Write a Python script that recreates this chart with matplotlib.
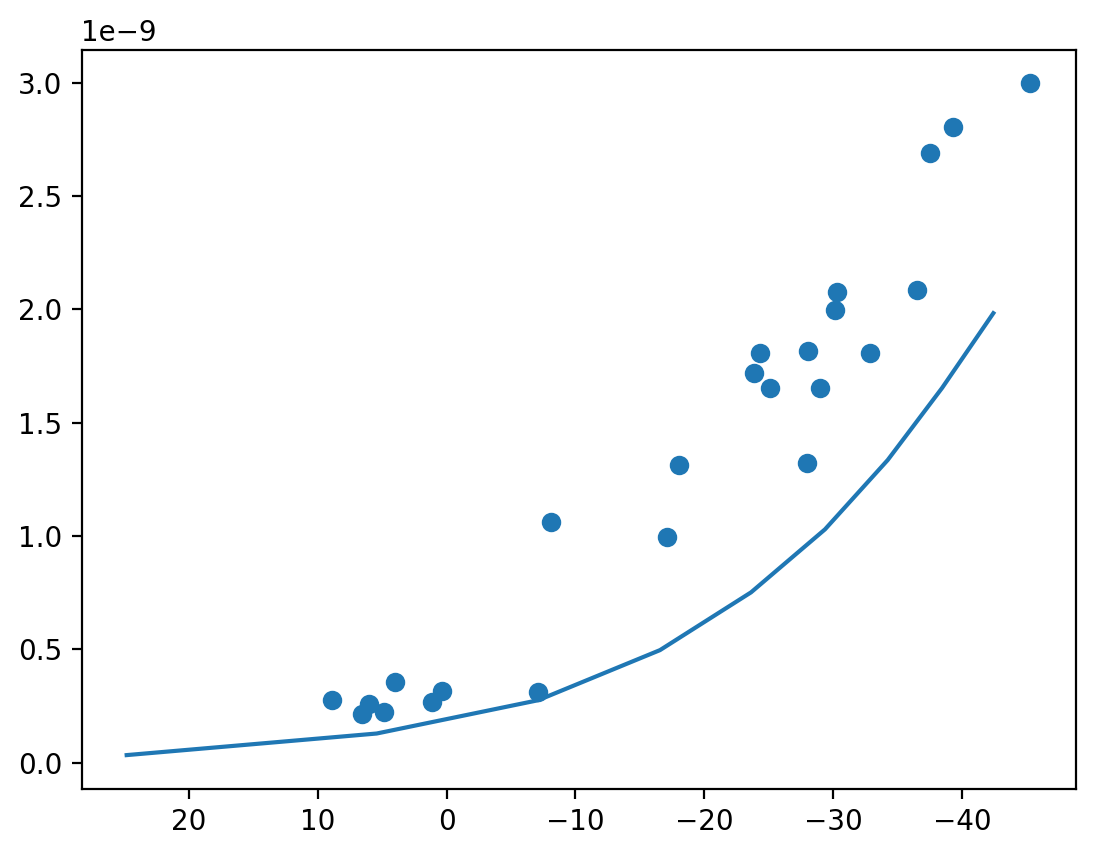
import matplotlib
matplotlib.use("Agg")
import matplotlib.pyplot as plt

# Scatter data (x, y in units of 1e-9)
scatter_x = [8.88, 6.55, 6.01, 4.87, 3.99, 1.12, 0.34, -7.11, -8.12, -17.13,
             -18.06, -23.88, -24.32, -25.12, -28.07, -28.0, -29.01, -30.16,
             -30.33, -32.88, -36.51, -37.55, -39.33, -45.31]
scatter_y = [0.275, 0.212, 0.258, 0.221, 0.354, 0.265, 0.314, 0.312, 1.060, 0.994,
             1.312, 1.718, 1.806, 1.652, 1.815, 1.321, 1.652, 1.995,
             2.076, 1.806, 2.086, 2.689, 2.804, 2.998]

# Line data
line_x = [24.84, 5.43, -7.11, -16.56, -23.63, -29.37, -34.24, -38.46, -42.44]
line_y = [0.0327, 0.128, 0.275, 0.496, 0.751, 1.029, 1.335, 1.653, 1.983]

scale = 1e-9

fig = plt.figure(figsize=(1095 / 200, 856 / 200), dpi=200)
ax = fig.add_axes([81.5 / 1095, (856 - 788.7) / 856, (1075.5 - 81.5) / 1095, (788.7 - 49.6) / 856])

ax.scatter(scatter_x, [v * scale for v in scatter_y])
ax.plot(line_x, [v * scale for v in line_y])
ax.invert_xaxis()

fig.savefig("out.png", dpi=200)
